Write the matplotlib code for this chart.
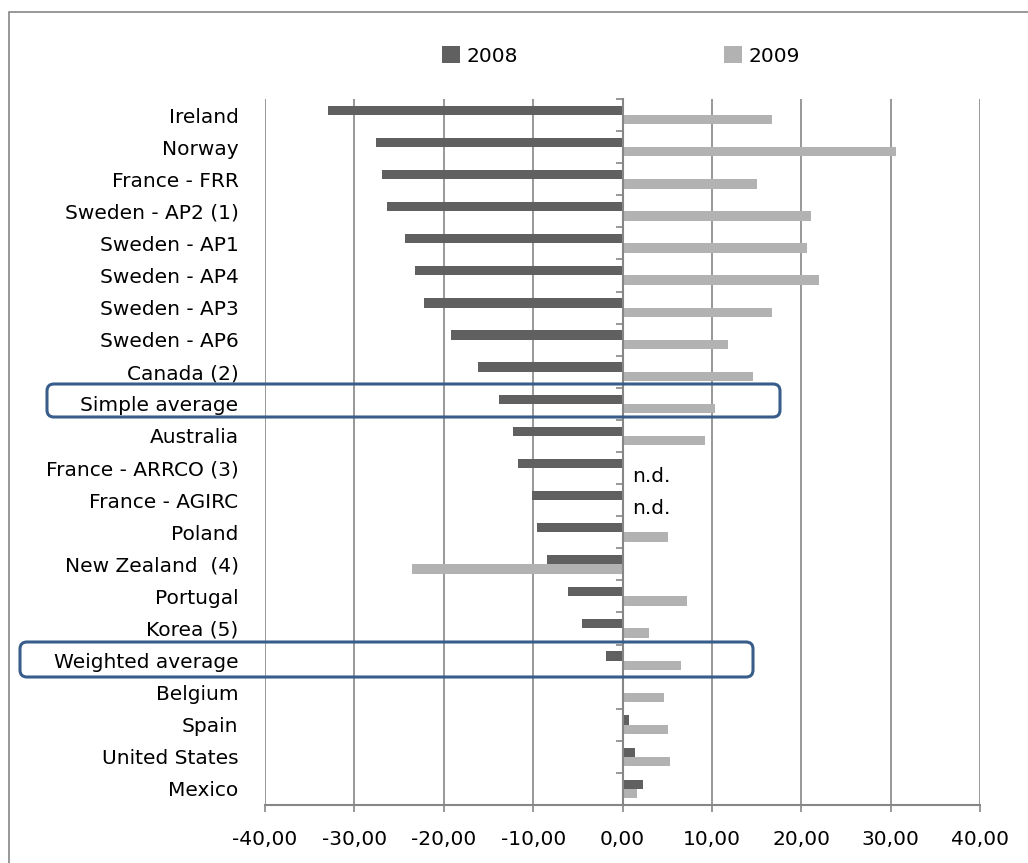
import matplotlib.pyplot as plt
import numpy as np
from matplotlib.patches import FancyBboxPatch, Rectangle
from matplotlib.ticker import FixedLocator, FuncFormatter

plt.rcParams['font.family'] = ['DejaVu Sans']

countries = ['Ireland', 'Norway', 'France - FRR', 'Sweden - AP2 (1)', 'Sweden - AP1',
             'Sweden - AP4', 'Sweden - AP3', 'Sweden - AP6', 'Canada (2)', 'Simple average',
             'Australia', 'France - ARRCO (3)', 'France - AGIRC', 'Poland',
             'New Zealand  (4)', 'Portugal', 'Korea (5)', 'Weighted average', 'Belgium',
             'Spain', 'United States', 'Mexico']
v2008 = [-33.0, -27.6, -26.9, -26.4, -24.3, -23.2, -22.2, -19.2, -16.2, -13.8,
         -12.2, -11.7, -10.1, -9.6, -8.4, -6.1, -4.5, -1.9, 0.0, 0.7, 1.4, 2.3]
v2009 = [16.7, 30.6, 15.1, 21.1, 20.6, 22.0, 16.7, 11.8, 14.6, 10.4,
         9.2, np.nan, np.nan, 5.1, -23.5, 7.2, 3.0, 6.5, 4.6, 5.1, 5.3, 1.6]
no_data = ['France - ARRCO (3)', 'France - AGIRC']

dark = '#606060'
light = '#b2b2b2'
grid = '#868686'
fs = 14.5

W, H = 1028, 863
fig = plt.figure(figsize=(W / 100, H / 100), dpi=100)
ax = fig.add_axes([265 / W, 1 - 805 / H, (980 - 265) / W, (805 - 99) / H])

y = np.arange(len(countries))
h = 0.29
ax.barh(y - 0.145, v2008, height=h, color=dark, label='2008', zorder=3)
ax.barh(y + 0.145, np.nan_to_num(v2009), height=h, color=light, label='2009', zorder=3)

for name in no_data:
    i = countries.index(name)
    ax.text(1.1, i + 0.27, 'n.d.', fontsize=fs, va='center', ha='left')

ax.set_xlim(-40, 40)
ax.set_ylim(len(countries) - 0.5, -0.5)
ax.set_xticks(np.arange(-40, 41, 10))
ax.xaxis.set_major_formatter(FuncFormatter(lambda v, p: f'{v:.2f}'.replace('.', ',')))
ax.xaxis.grid(True, color=grid, linewidth=1.2, zorder=0)
ax.set_axisbelow(True)

ax.set_yticks(y)
ax.set_yticklabels(countries)
ax.yaxis.set_minor_locator(FixedLocator(np.arange(len(countries) + 1) - 0.5))
ax.tick_params(axis='y', which='major', length=0, pad=19, labelsize=fs)
ax.tick_params(axis='y', which='minor', left=False, right=True, direction='in',
               length=5, width=1.2, color=grid)
ax.tick_params(axis='x', length=5, width=1.2, color=grid, pad=13, labelsize=fs)

ax.spines['top'].set_visible(False)
ax.spines['left'].set_visible(False)
ax.spines['right'].set_position(('data', 0))
ax.spines['right'].set_color(grid)
ax.spines['right'].set_linewidth(1.5)
ax.spines['right'].set_zorder(4)
ax.spines['bottom'].set_color(grid)
ax.spines['bottom'].set_linewidth(1.5)

fig.legend(loc='center', bbox_to_anchor=(621 / W, 1 - 56 / H), ncol=2, frameon=False,
           fontsize=fs, handlelength=0.9, handleheight=0.9, handletextpad=0.35,
           columnspacing=10.2)

# outer chart frame
fig.patches.append(Rectangle((9 / 100, -1), 20, (H - 12) / 100 + 1, fill=False,
                             edgecolor=grid, linewidth=1.2,
                             transform=fig.dpi_scale_trans))

# highlight boxes around the averages
for x0, x1, y0, y1 in [(47, 780, 384, 417), (20, 753, 642, 677)]:
    fig.patches.append(FancyBboxPatch((x0 / 100, (H - y1) / 100), (x1 - x0) / 100,
                                      (y1 - y0) / 100,
                                      boxstyle='round,pad=0,rounding_size=0.07',
                                      fill=False, edgecolor='#385d8a', linewidth=2.2,
                                      transform=fig.dpi_scale_trans, zorder=5))

fig.savefig('out.png', dpi=100)
